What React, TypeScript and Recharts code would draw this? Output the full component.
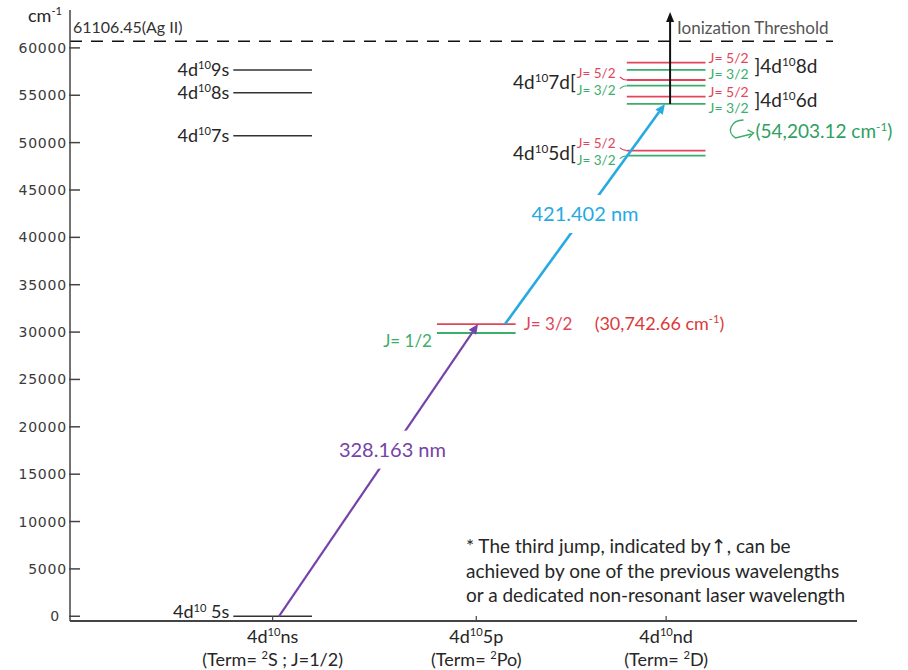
import React from 'react';
import { ComposedChart, XAxis, YAxis, ReferenceLine } from 'recharts';

const FONT = 'Lato, "Noto Sans", sans-serif';
const INK = '#262626';
const RED = '#e0455a';
const GREEN = '#3aae6a';
const BLUE = '#25aae1';
const PURPLE = '#7543a9';

// columns on the x axis
const columnLabels = ['4d^{10}ns', '4d^{10}5p', '4d^{10}nd'];
const columnTerms = ['(Term= ^{2}S ; J=1/2)', '(Term= ^{2}Po)', '(Term= ^{2}D)'];
const columnX = [1.03, 2.065, 3.03];

const yTicks = [0, 5000, 10000, 15000, 20000, 25000, 30000, 35000, 40000, 45000, 50000, 55000, 60000];

// energy levels in cm-1 (as drawn)
const sLevels = [
  { name: '4d^{10} 5s', energy: 0 },
  { name: '4d^{10}7s', energy: 50730 },
  { name: '4d^{10}8s', energy: 55270 },
  { name: '4d^{10}9s', energy: 57670 },
];
const pLevels = [
  { j: 'J= 1/2', energy: 29900 },
  { j: 'J= 3/2', energy: 30850, note: '(30,742.66 cm^{-1})' },
];
const dLevels = [
  { name: '4d^{10}5d', j52: 49150, j32: 48620, labelSide: 'left' },
  { name: '4d^{10}6d', j52: 54850, j32: 54080, labelSide: 'right', note: '(54,203.12 cm^{-1})' },
  { name: '4d^{10}7d', j52: 56610, j32: 56010, labelSide: 'left' },
  { name: '4d^{10}8d', j52: 58440, j32: 57670, labelSide: 'right' },
];
const ionization = { energy: 60700, label: '61106.45(Ag II)', end: 3.878 };
const transitions = [
  { label: '328.163 nm', color: PURPLE, x1: 1.062, e1: 0, x2: 2.074, e2: 30850, t: 0.57 },
  { label: '421.402 nm', color: BLUE, x1: 2.211, e1: 30850, x2: 3.024, e2: 54080, t: 0.5 },
];
const thirdJump = { x: 3.05, e1: 54080, e2: 63800 };
const LEVEL_HALF = 0.2;

function Rich({ x, y, text, size, fill = INK, anchor = 'start', family = FONT }: any) {
  const parts = text.split(/(\^\{[^}]*\})/).filter((s: string) => s.length > 0);
  const shift = size * 0.38;
  let up = false;
  const spans = parts.map((part: string, i: number) => {
    const sup = part.startsWith('^{');
    let dy = 0;
    if (sup && !up) dy = -shift;
    if (!sup && up) dy = shift;
    up = sup;
    return (
      <tspan key={i} dy={dy} fontSize={sup ? size * 0.62 : size}>
        {sup ? part.slice(2, -1) : part}
      </tspan>
    );
  });
  return (
    <text x={x} y={y + size * 0.34} textAnchor={anchor} fontFamily={family} fontSize={size} fill={fill}>
      {spans}
    </text>
  );
}

const sShape = (name: string) => (p: any) => (
  <g>
    <line x1={p.x1} y1={p.y1} x2={p.x2} y2={p.y2} stroke="#333" strokeWidth={1.5} />
    <Rich x={p.x1 - 4} y={p.y1 - (name.includes('5s') ? 4 : 0)} text={name} size={18} anchor="end" />
  </g>
);

const pShape = (lvl: any, i: number) => (p: any) => (
  <g>
    <line x1={p.x1} y1={p.y1} x2={p.x2} y2={p.y2} stroke={i === 0 ? GREEN : RED} strokeWidth={1.8} />
    {i === 0 ? (
      <Rich x={p.x1 - 5} y={p.y1 + 8} text={lvl.j} size={17} fill={GREEN} anchor="end" />
    ) : (
      <>
        <Rich x={p.x2 + 8} y={p.y1} text={lvl.j} size={17} fill={RED} />
        <Rich x={p.x2 + 79} y={p.y1} text={lvl.note} size={18} fill="#d93a3a" />
      </>
    )}
  </g>
);

const dShape = (lvl: any, red: boolean) => (p: any) => {
  const left = lvl.labelSide === 'left';
  const y = p.y1;
  const color = red ? RED : GREEN;
  const jText = red ? 'J= 5/2' : 'J= 3/2';
  return (
    <g>
      <line x1={p.x1} y1={y} x2={p.x2} y2={y} stroke={color} strokeWidth={1.8} />
      {left ? (
        <>
          <Rich x={p.x1 - 50} y={red ? y - 7 : y + 5} text={jText} size={13.5} fill={color} />
          <path
            d={red ? `M ${p.x1 - 7} ${y - 3} Q ${p.x1 - 4} ${y} ${p.x1} ${y}` : `M ${p.x1 - 7} ${y + 3} Q ${p.x1 - 4} ${y} ${p.x1} ${y}`}
            fill="none"
            stroke={color}
            strokeWidth={1.1}
          />
          {red && <Rich x={p.x1 - 51} y={y + 3} text={lvl.name + '['} size={19} anchor="end" />}
        </>
      ) : (
        <>
          <Rich x={p.x2 + 3} y={red ? y - 4 : y + 4} text={jText} size={14} fill={color} />
          {red && <Rich x={p.x2 + 49} y={y + 4} text={']' + lvl.name} size={19} />}
          {!red && lvl.note && (
            <>
              <path
                d={`M ${p.x2 + 38} ${y + 16} C ${p.x2 + 26} ${y + 16}, ${p.x2 + 20} ${y + 28}, ${p.x2 + 30} ${y + 34} L ${p.x2 + 46} ${y + 30}`}
                fill="none"
                stroke={GREEN}
                strokeWidth={1.4}
              />
              <path d={`M ${p.x2 + 42} ${y + 26} L ${p.x2 + 48} ${y + 29} L ${p.x2 + 43} ${y + 34}`} fill="none" stroke={GREEN} strokeWidth={1.4} />
              <Rich x={p.x2 + 50} y={y + 28} text={lvl.note} size={19} fill="#2f9f61" />
            </>
          )}
        </>
      )}
    </g>
  );
};

const arrowShape = (color: string, width: number, label?: string, t = 0.5) => (p: any) => {
  const dx = p.x2 - p.x1;
  const dy = p.y2 - p.y1;
  const len = Math.hypot(dx, dy);
  const ux = dx / len;
  const uy = dy / len;
  const head = 10;
  const hw = 4.5;
  const bx = p.x2 - ux * head;
  const by = p.y2 - uy * head;
  const lx = p.x1 + dx * t;
  const ly = p.y1 + dy * t;
  return (
    <g>
      <line x1={p.x1} y1={p.y1} x2={bx} y2={by} stroke={color} strokeWidth={width} />
      <polygon points={`${p.x2},${p.y2} ${bx - uy * hw},${by + ux * hw} ${bx + uy * hw},${by - ux * hw}`} fill={color} />
      {label && (
        <>
          <rect x={lx - 60} y={ly - 19} width={120} height={38} fill="#fff" />
          <text x={lx} y={ly + 7} textAnchor="middle" fontFamily={FONT} fontSize={20} fill={color}>
            {label}
          </text>
        </>
      )}
    </g>
  );
};

const thirdShape = (p: any) => {
  const top = Math.min(p.y1, p.y2);
  const bottom = Math.max(p.y1, p.y2);
  return (
    <g>
      <line x1={p.x1} y1={bottom} x2={p.x1} y2={top + 9} stroke="#111" strokeWidth={2} />
      <polygon points={`${p.x1},${top} ${p.x1 - 4},${top + 10} ${p.x1 + 4},${top + 10}`} fill="#111" />
      <text x={p.x1 + 7} y={top + 22} fontFamily={FONT} fontSize={17} fill="#555">
        Ionization Threshold
      </text>
    </g>
  );
};

const limitShape = (p: any) => (
  <g>
    <line x1={p.x1} y1={p.y1} x2={p.x2} y2={p.y2} stroke="#111" strokeWidth={1.5} strokeDasharray="12 9" />
    <text x={p.x1 + 3} y={p.y1 - 8} fontFamily={FONT} fontSize={16} fill="#333">
      {ionization.label}
    </text>
  </g>
);

const renderYTick = (p: any) => (
  <g>
    <line x1={69} y1={p.y} x2={80} y2={p.y} stroke="#444" strokeWidth={1.5} />
    <text
      x={p.payload.value === 0 ? 60 : 67}
      y={p.y + 5}
      textAnchor="end"
      fontFamily="DejaVu Sans"
      fontSize={14}
      letterSpacing={0.8}
      fill="#3a3a3a"
    >
      {p.payload.value}
    </text>
  </g>
);

const renderXTick = (p: any) => {
  const i = columnX.indexOf(p.payload.value);
  return (
    <g>
      <line x1={p.x} y1={621} x2={p.x} y2={616} stroke="#444" strokeWidth={1.2} />
      <Rich x={p.x} y={637} text={columnLabels[i]} size={18} anchor="middle" />
      <Rich x={p.x} y={660} text={columnTerms[i]} size={18} anchor="middle" />
    </g>
  );
};

const unitLabel = (props: any) => {
  const vb = props.viewBox;
  return <Rich x={vb.x + 28} y={vb.y + 6} text="cm^{-1}" size={18} />;
};

const noteLabel = (props: any) => {
  const vb = props.viewBox;
  const x = vb.x + 396;
  const y = vb.y;
  return (
    <g fontFamily={FONT} fontSize={19} fill={INK}>
      <text x={x} y={y - 68}>
        * The third jump, indicated by<tspan fontFamily="DejaVu Sans" fontSize={19}>↑</tspan>, can be
      </text>
      <text x={x} y={y - 43}>achieved by one of the previous wavelengths</text>
      <text x={x} y={y - 19}>or a dedicated non-resonant laser wavelength</text>
    </g>
  );
};

export default function App() {
  const data = columnX.map((x) => ({ x }));
  return (
    <div style={{ position: 'absolute', left: 0, top: 0, background: '#fff' }}>
      <ComposedChart width={908} height={670} data={data} margin={{ top: 10, right: 51, bottom: 0, left: 0 }}>
        <XAxis
          type="number"
          dataKey="x"
          domain={[0, 4]}
          allowDataOverflow
          ticks={columnX}
          interval={0}
          tick={renderXTick}
          tickLine={false}
          axisLine={{ stroke: '#444', strokeWidth: 2 }}
          height={49}
          label={{ content: noteLabel }}
        />
        <YAxis
          type="number"
          domain={[-500, 64000]}
          allowDataOverflow
          ticks={yTicks}
          interval={0}
          tick={renderYTick}
          tickLine={false}
          tickSize={0}
          axisLine={{ stroke: '#444', strokeWidth: 1.5 }}
          width={70}
          label={{ content: unitLabel }}
        />
        <ReferenceLine
          segment={[{ x: 0, y: ionization.energy }, { x: ionization.end, y: ionization.energy }]}
          ifOverflow="visible"
          shape={limitShape}
        />
        {sLevels.map((l) => (
          <ReferenceLine
            key={l.name}
            segment={[{ x: columnX[0] - LEVEL_HALF, y: l.energy }, { x: columnX[0] + LEVEL_HALF, y: l.energy }]}
            ifOverflow="visible"
            shape={sShape(l.name)}
          />
        ))}
        {pLevels.map((l, i) => (
          <ReferenceLine
            key={l.j}
            segment={[{ x: columnX[1] - LEVEL_HALF, y: l.energy }, { x: columnX[1] + LEVEL_HALF, y: l.energy }]}
            ifOverflow="visible"
            shape={pShape(l, i)}
          />
        ))}
        {dLevels.map((l) => (
          <React.Fragment key={l.name}>
            <ReferenceLine
              segment={[{ x: columnX[2] - LEVEL_HALF, y: l.j52 }, { x: columnX[2] + LEVEL_HALF, y: l.j52 }]}
              ifOverflow="visible"
              shape={dShape(l, true)}
            />
            <ReferenceLine
              segment={[{ x: columnX[2] - LEVEL_HALF, y: l.j32 }, { x: columnX[2] + LEVEL_HALF, y: l.j32 }]}
              ifOverflow="visible"
              shape={dShape(l, false)}
            />
          </React.Fragment>
        ))}
        {transitions.map((tr) => (
          <ReferenceLine
            key={tr.label}
            segment={[{ x: tr.x1, y: tr.e1 }, { x: tr.x2, y: tr.e2 }]}
            ifOverflow="visible"
            shape={arrowShape(tr.color, tr.color === BLUE ? 2.6 : 2.2, tr.label, tr.t)}
          />
        ))}
        <ReferenceLine
          segment={[{ x: thirdJump.x, y: thirdJump.e1 }, { x: thirdJump.x, y: thirdJump.e2 }]}
          ifOverflow="visible"
          shape={thirdShape}
        />
      </ComposedChart>
    </div>
  );
}
